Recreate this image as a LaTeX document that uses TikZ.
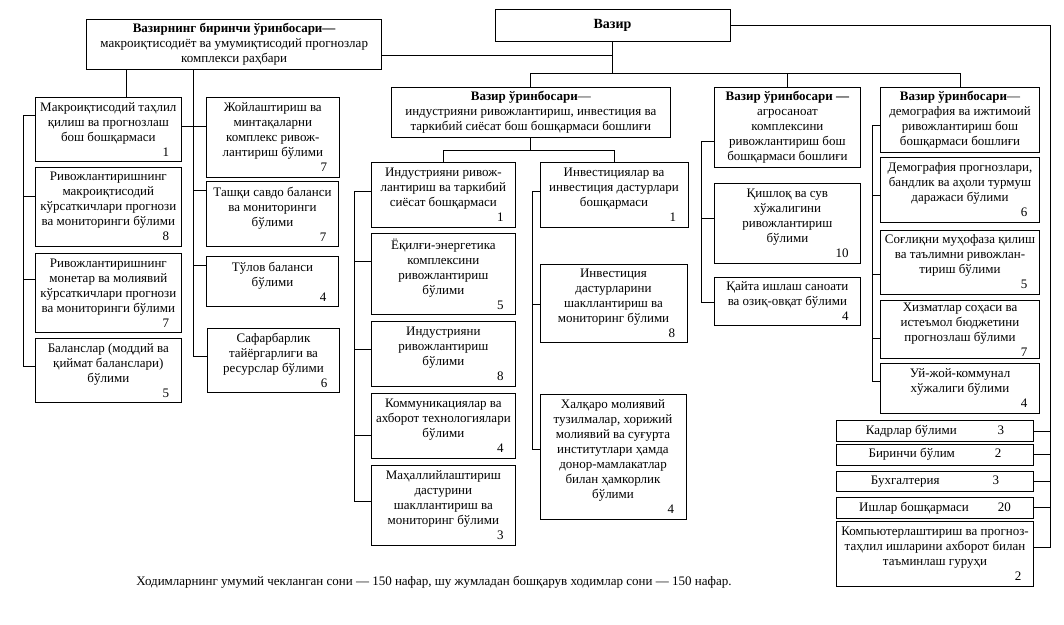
\documentclass[tikz,border=0pt]{standalone}
\usepackage{fontspec}
\setmainfont{Liberation Serif}
\tikzset{
  box/.style={draw, line width=0.9pt, inner sep=2pt, align=center, font=\fontsize{13}{15}\selectfont},
  ln/.style={line width=0.9pt},
}
\newcommand\bx[7]{%
  \pgfmathsetmacro\bw{#4-#2}%
  \pgfmathsetmacro\bh{#5-#3}%
  \node[box,minimum width=\bw pt,minimum height=\bh pt] (#1) at ({(#2+#4)/2},{(#3+#5)/2}) {#6\\\makebox[\dimexpr\bw pt-24pt\relax][r]{#7}};}
\newcommand\bxn[6]{%
  \pgfmathsetmacro\bw{#4-#2}%
  \pgfmathsetmacro\bh{#5-#3}%
  \node[box,minimum width=\bw pt,minimum height=\bh pt] (#1) at ({(#2+#4)/2},{(#3+#5)/2}) {#6};}
\begin{document}
\begin{tikzpicture}[x=1pt,y=-1pt]
\useasboundingbox[fill=white] (0,0) rectangle (1064,624);
% top level
\bxn{vazir}{495}{9.3}{730}{41}{\textbf{\fontsize{14}{16}\selectfont Вазир}}
\bxn{vaz1}{86.7}{19.3}{381.7}{69.3}{\textbf{Вазирнинг биринчи ўринбосари—}\\макроиқтисодиёт ва умумиқтисодий прогнозлар\\комплекси раҳбари}
\bxn{dep1}{391.7}{87.3}{670}{137.3}{\textbf{Вазир ўринбосари}—\\индустрияни ривожлантириш, инвестиция ва\\таркибий сиёсат бош бошқармаси бошлиғи}
\bxn{dep2}{714.3}{87.3}{860.5}{167}{\textbf{Вазир ўринбосари —}\\агросаноат\\комплексини\\ривожлантириш бош\\бошқармаси бошлиғи}
\bxn{dep3}{880.7}{87.3}{1039.3}{152.3}{\textbf{Вазир ўринбосари}—\\демография ва ижтимоий\\ривожлантириш бош\\бошқармаси бошлиғи}
% left column
\bx{L1}{35.7}{97.3}{181}{161.7}{Макроиқтисодий таҳлил\\қилиш ва прогнозлаш\\бош бошқармаси}{1}
\bx{L2}{35.7}{167.3}{181}{246}{Ривожлантиришнинг\\макроиқтисодий\\кўрсаткичлари прогнози\\ва мониторинги бўлими}{8}
\bx{L3}{35.7}{253.3}{181}{332.3}{Ривожлантиришнинг\\монетар ва молиявий\\кўрсаткичлари прогнози\\ва мониторинги бўлими}{7}
\bx{L4}{35.7}{338.3}{181}{402.3}{Баланслар (моддий ва\\қиймат баланслари)\\бўлими}{5}
% second column
\bx{R1}{206.7}{97.3}{339}{177.3}{Жойлаштириш ва\\минтақаларни\\комплекс ривож-\\лантириш бўлими}{7}
\bx{R2}{206.7}{181.7}{338.3}{246}{Ташқи савдо баланси\\ва мониторинги\\бўлими}{7}
\bx{R3}{206.7}{256}{338.3}{306.7}{Тўлов баланси\\бўлими}{4}
\bx{R4}{207.7}{328.3}{339.3}{392.3}{Сафарбарлик\\тайёргарлиги ва\\ресурслар бўлими}{6}
% middle-left column
\bx{M1}{371}{162.7}{515.7}{227.7}{Индустрияни ривож-\\лантириш ва таркибий\\сиёсат бошқармаси}{1}
\bx{M2}{371}{233.3}{515.7}{314.3}{Ёқилғи-энергетика\\комплексини\\ривожлантириш\\бўлими}{5}
\bx{M3}{371}{321.7}{515.7}{386.7}{Индустрияни\\ривожлантириш\\бўлими}{8}
\bx{M4}{371}{393.3}{515.7}{458.3}{Коммуникациялар ва\\ахборот технологиялари\\бўлими}{4}
\bx{M5}{371}{465}{515.7}{545.7}{Маҳаллийлаштириш\\дастурини\\шакллантириш ва\\мониторинг бўлими}{3}
% middle-right column
\bx{N1}{540}{162.7}{688}{227.7}{Инвестициялар ва\\инвестиция дастурлари\\бошқармаси}{1}
\bx{N2}{540}{264.3}{687}{342.7}{Инвестиция\\дастурларини\\шакллантириш ва\\мониторинг бўлими}{8}
\bx{N3}{540}{394.3}{686}{519}{Халқаро молиявий\\тузилмалар, хорижий\\молиявий ва суғурта\\институтлари ҳамда\\донор-мамлакатлар\\билан ҳамкорлик\\бўлими}{4}
% agro column
\bx{A1}{714.3}{183.3}{860.5}{263.3}{Қишлоқ ва сув\\хўжалигини\\ривожлантириш\\бўлими}{10}
\bx{A2}{714.3}{277.3}{860.5}{325}{Қайта ишлаш саноати\\ва озиқ-овқат бўлими}{4}
% demography column
\bx{D1}{880.7}{157.3}{1039.3}{222.3}{Демография прогнозлари,\\бандлик ва аҳоли турмуш\\даражаси бўлими}{6}
\bx{D2}{880.7}{230}{1039.3}{294}{Соғлиқни муҳофаза қилиш\\ва таълимни ривожлан-\\тириш бўлими}{5}
\bx{D3}{880.7}{301.7}{1039.3}{357.3}{Хизматлар соҳаси ва\\истеъмол бюджетини\\прогнозлаш бўлими}{7}
\bx{D4}{880.7}{363.3}{1039.3}{413.3}{Уй-жой-коммунал\\хўжалиги бўлими}{4}
% staff units
\bxn{S1}{836.7}{420.7}{1033.3}{441.7}{Кадрлар бўлими\hspace{41pt}3}
\bxn{S2}{836.7}{444.3}{1033.3}{465}{Биринчи бўлим\hspace{40pt}2}
\bxn{S3}{836.7}{471}{1033.3}{491.7}{Бухгалтерия\hspace{53pt}3}
\bxn{S4}{836.7}{497.3}{1033.3}{518.3}{Ишлар бошқармаси\hspace{29pt}20}
\bx{S5}{836.7}{521.7}{1033.3}{586.7}{Компьютерлаштириш ва прогноз-\\таҳлил ишларини ахборот билан\\таъминлаш гуруҳи}{2}
% connectors: top
\draw[ln] (vazir.east) -| (1050,547.3) -- (S5.east |- 1050,547.3);
\foreach \n in {S1,S2,S3,S4} \draw[ln] (\n.east) -- (\n.east -| 1050,0);
\draw[ln] (vazir.south) -- (vazir.south |- 0,73.3);
\draw[ln] (dep1.north) |- (dep3.north |- 0,73.3) -- (dep3.north);
\draw[ln] (dep2.north) -- (dep2.north |- 0,73.3);
\draw[ln] (vaz1.east |- 0,55) -- (vazir.south |- 0,55);
% first deputy
\draw[ln] (vaz1.south -| 126.7,0) -- (L1.north -| 126.7,0);
\draw[ln] (L1.west |- 0,115.7) -| (23.3,366.7) -- (L4.west |- 0,366.7);
\draw[ln] (23.3,196) -- (L2.west |- 0,196);
\draw[ln] (23.3,279.3) -- (L3.west |- 0,279.3);
\draw[ln] (vaz1.south -| 193.3,0) |- (R4.west |- 0,356);
\draw[ln] (L1.east |- 0,126.7) -- (R1.west |- 0,126.7);
\draw[ln] (193.3,190) -- (R2.west |- 0,190);
\draw[ln] (193.3,265) -- (R3.west |- 0,265);
% middle deputy
\draw[ln] (dep1.south) -- (dep1.south |- 0,150.7);
\draw[ln] (M1.north) |- (N1.north |- 0,150.7) -- (N1.north);
\draw[ln] (M1.west |- 0,191.7) -| (354,501.7) -- (M5.west |- 0,501.7);
\draw[ln] (354,261.7) -- (M2.west |- 0,261.7);
\draw[ln] (354,349.3) -- (M3.west |- 0,349.3);
\draw[ln] (354,435) -- (M4.west |- 0,435);
\draw[ln] (N1.west |- 0,191.7) -| (532.7,449.3) -- (N3.west |- 0,449.3);
\draw[ln] (532.7,304) -- (N2.west |- 0,304);
% agro deputy
\draw[ln] (dep2.west |- 0,141.7) -| (701.7,302.7) -- (A2.west |- 0,302.7);
\draw[ln] (701.7,218.3) -- (A1.west |- 0,218.3);
% demography deputy
\draw[ln] (dep3.west |- 0,125.7) -| (872.7,381.7) -- (D4.west |- 0,381.7);
\draw[ln] (872.7,195) -- (D1.west |- 0,195);
\draw[ln] (872.7,274) -- (D2.west |- 0,274);
\draw[ln] (872.7,338.3) -- (D3.west |- 0,338.3);
% footer
\node[font=\fontsize{13}{15}\selectfont] (foot) at (434,582) {Ходимларнинг умумий чекланган сони — 150 нафар, шу жумладан бошқарув ходимлар сони — 150 нафар.};
\end{tikzpicture}
\end{document}
